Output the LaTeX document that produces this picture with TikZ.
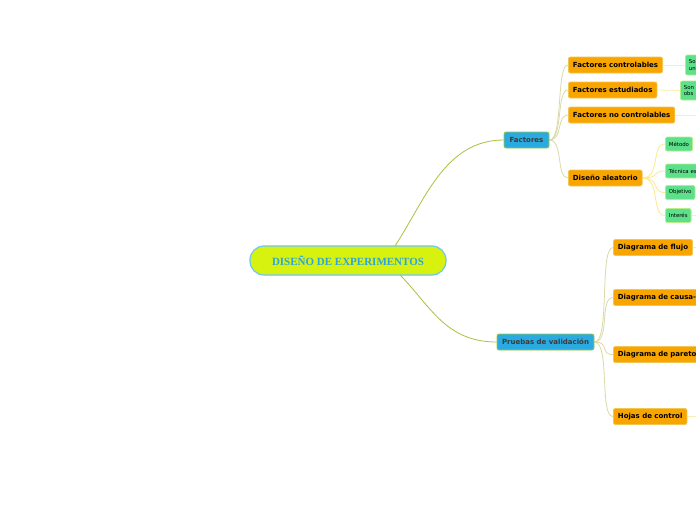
\documentclass[tikz,border=0pt]{standalone}
\usepackage{fontspec}
\newfontfamily\dv{DejaVu Sans}
\newfontfamily\lserif{Liberation Serif}
\definecolor{rootfill}{HTML}{D8F20F}
\definecolor{rootbd}{HTML}{6CC7EE}
\definecolor{roottext}{HTML}{2BA4DF}
\definecolor{mblue}{HTML}{29ABE2}
\definecolor{mbluebd}{HTML}{9BC83C}
\definecolor{mtext}{HTML}{3A3A3A}
\definecolor{morange}{HTML}{F9A500}
\definecolor{morangebd}{HTML}{F2C652}
\definecolor{mgreen}{HTML}{5CE08A}
\definecolor{mgreenbd}{HTML}{B5EE8C}
\definecolor{ctrunk}{HTML}{A9C23F}
\definecolor{cbranch}{HTML}{DADAA8}
\definecolor{ctwig}{HTML}{FCE98A}
\definecolor{cright}{HTML}{FBEFB0}
\pgfdeclarelayer{bg}
\pgfsetlayers{bg,main}
\begin{document}
\begin{tikzpicture}[x=1pt,y=-1pt,
  rootbox/.style={rectangle, rounded corners=14pt, fill=rootfill, draw=rootbd, line width=1.2pt,
    minimum width=196pt, minimum height=29pt, text=roottext,
    font=\lserif\bfseries\fontsize{11}{12}\selectfont},
  mainbox/.style={rectangle, rounded corners=2pt, fill=mblue, draw=mbluebd, line width=0.8pt,
    text=mtext, font=\dv\bfseries\fontsize{7}{8}\selectfont, minimum height=16pt, inner xsep=5pt, inner ysep=0pt},
  subbox/.style={rectangle, rounded corners=2pt, fill=morange, draw=morangebd, line width=0.8pt,
    text=black, font=\dv\bfseries\fontsize{7}{8}\selectfont, minimum height=16pt, inner xsep=4.5pt, inner ysep=0pt, anchor=west},
  leafbox/.style={rectangle, rounded corners=2pt, fill=mgreen, draw=mgreenbd, line width=0.8pt,
    text=black, font=\dv\fontsize{5.4}{6.5}\selectfont, minimum height=14pt, inner xsep=3.5pt, inner ysep=0pt, anchor=west},
  trunk/.style={draw=ctrunk, line width=0.8pt},
  branch/.style={draw=cbranch, line width=0.8pt},
  twig/.style={draw=ctwig, line width=0.8pt},
  rline/.style={draw=cright, line width=0.8pt}]
\useasboundingbox (0,0) rectangle (696,520);
\clip (0,0) rectangle (696,520);

\node[rootbox] (root) at (348,260.5) {DISEÑO DE EXPERIMENTOS};
\node[mainbox, minimum width=45pt] (fac) at (526.5,140) {Factores};
\node[mainbox, minimum width=97pt] (pv) at (545.5,342) {Pruebas de validación};

\node[subbox] (fc) at (568,65) {Factores controlables};
\node[subbox] (fe) at (568,90) {Factores estudiados};
\node[subbox] (fnc) at (568,115) {Factores no controlables};
\node[subbox] (da) at (568,178) {Diseño aleatorio};

\node[subbox] (df) at (613,247.5) {Diagrama de flujo};
\node[subbox, text width=90pt, align=left] (dc) at (613,297.5) {Diagrama de causa-};
\node[subbox, text width=90pt, align=left] (dp) at (613,354.5) {Diagrama de pareto};
\node[subbox] (hc) at (613,416.5) {Hojas de control};

\node[leafbox, minimum height=20pt, text width=30pt, align=left] (g1) at (685,65) {So\\un};
\node[leafbox, minimum height=19pt, text width=30pt, align=left] (g2) at (680,90.5) {Son\\obs};
\node[leafbox] (m) at (665,144) {Método};
\node[leafbox, text width=40pt, align=left] (te) at (665,171) {Técnica es};
\node[leafbox] (ob) at (665,192.5) {Objetivo};
\node[leafbox] (in) at (665,215.5) {Interés};

\coordinate (rt1) at (395,246);
\coordinate (rt2) at (400,275);
\coordinate (e1) at (700,115);
\coordinate (e2) at (700,247.5);
\coordinate (e3) at (700,416.5);
\coordinate (e4) at (700,215.5);

\begin{pgfonlayer}{bg}
\fill[white] (0,0) rectangle (696,520);
\path[trunk] (rt1) .. controls (425,200) and (445,140) .. (fac.west);
\path[trunk] (rt2) .. controls (430,305) and (445,342) .. (pv.west);
\foreach \c in {fc,fe,fnc,da}
  \path[branch] (fac.east) .. controls +(14,0) and +(-12,0) .. (\c.west);
\foreach \c in {df,dc,dp,hc}
  \path[branch] (pv.east) .. controls +(16,0) and +(-14,0) .. (\c.west);
\foreach \c in {m,te,ob,in}
  \path[twig] (da.east) .. controls +(18,0) and +(-14,0) .. (\c.west);
\path[rline] (fc.east) -- (g1.west);
\path[rline] (fe.east) -- (g2.west);
\path[rline] (fnc.east) -- (e1);
\path[rline] (df.east) -- (e2);
\path[rline] (hc.east) -- (e3);
\path[rline] (in.east) -- (e4);
\end{pgfonlayer}
\end{tikzpicture}
\end{document}
